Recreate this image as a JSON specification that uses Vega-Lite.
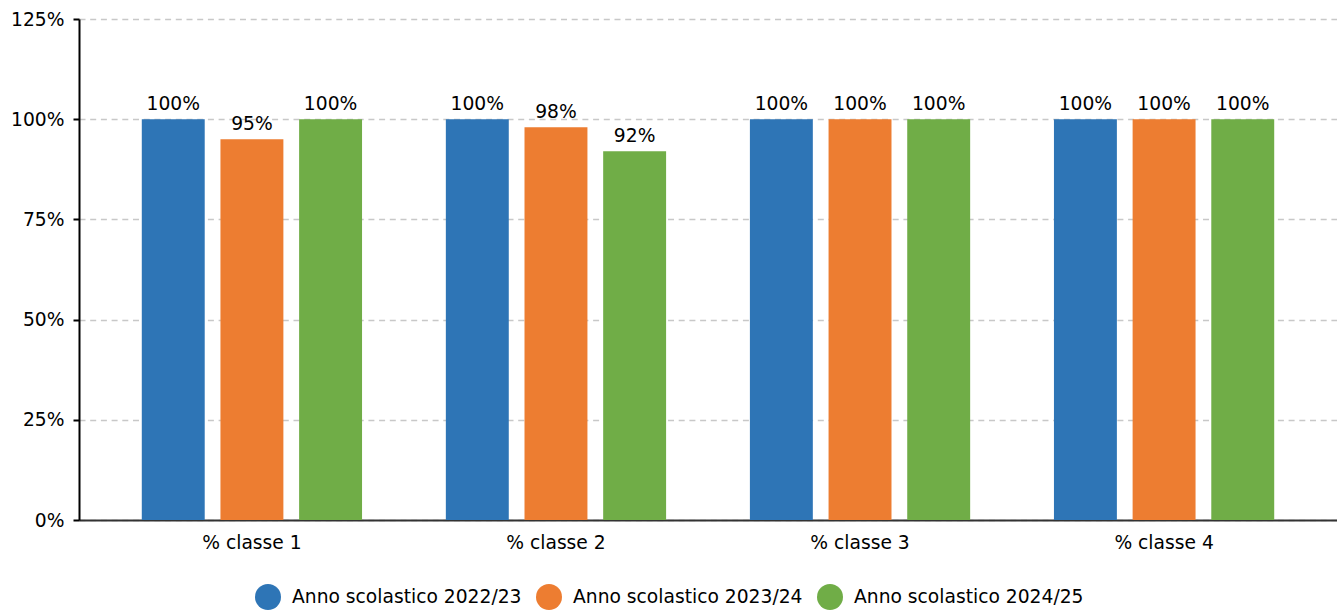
{
  "$schema": "https://vega.github.io/schema/vega-lite/v6.json",
  "width": 1258,
  "height": 501,
  "autosize": {"type": "none"},
  "padding": {"left": 79, "top": 19, "right": 0, "bottom": 90},
  "background": "white",
  "config": {
    "font": "DejaVu Sans",
    "view": {"stroke": null},
    "axis": {"labelFont": "DejaVu Sans", "labelFontSize": 18.7, "labelColor": "#000", "title": null}
  },
  "data": {
    "values": [
      {"classe": "% classe 1", "anno": "Anno scolastico 2022/23", "v": 1.0},
      {"classe": "% classe 1", "anno": "Anno scolastico 2023/24", "v": 0.95},
      {"classe": "% classe 1", "anno": "Anno scolastico 2024/25", "v": 1.0},
      {"classe": "% classe 2", "anno": "Anno scolastico 2022/23", "v": 1.0},
      {"classe": "% classe 2", "anno": "Anno scolastico 2023/24", "v": 0.98},
      {"classe": "% classe 2", "anno": "Anno scolastico 2024/25", "v": 0.92},
      {"classe": "% classe 3", "anno": "Anno scolastico 2022/23", "v": 1.0},
      {"classe": "% classe 3", "anno": "Anno scolastico 2023/24", "v": 1.0},
      {"classe": "% classe 3", "anno": "Anno scolastico 2024/25", "v": 1.0},
      {"classe": "% classe 4", "anno": "Anno scolastico 2022/23", "v": 1.0},
      {"classe": "% classe 4", "anno": "Anno scolastico 2023/24", "v": 1.0},
      {"classe": "% classe 4", "anno": "Anno scolastico 2024/25", "v": 1.0}
    ]
  },
  "encoding": {
    "x": {
      "field": "classe", "type": "nominal",
      "scale": {"paddingInner": 0.2756, "paddingOuter": 0.2065},
      "axis": {"labelAngle": 0, "ticks": false, "labelPadding": 13, "domainColor": "#333", "domainWidth": 2, "grid": false}
    },
    "xOffset": {
      "field": "anno", "type": "nominal",
      "scale": {"paddingInner": 0.2, "paddingOuter": 0}
    },
    "y": {
      "field": "v", "type": "quantitative",
      "scale": {"domain": [0, 1.25], "nice": false},
      "axis": {
        "values": [0, 0.25, 0.5, 0.75, 1.0, 1.25],
        "format": ".0%",
        "domainColor": "#000", "domainWidth": 2,
        "tickColor": "#000", "tickWidth": 2, "tickSize": 6,
        "labelPadding": 9,
        "grid": true, "gridColor": "#c8c8c8", "gridDash": [6, 4.7], "gridWidth": 1.5
      }
    }
  },
  "layer": [
    {
      "mark": {"type": "bar"},
      "encoding": {
        "color": {
          "field": "anno", "type": "nominal",
          "scale": {"range": ["#2e75b6", "#ed7d31", "#70ad47"]},
          "legend": {
            "title": null,
            "orient": "none",
            "direction": "horizontal",
            "legendX": 176,
            "legendY": 565,
            "symbolType": "circle",
            "symbolSize": 676,
            "symbolStrokeWidth": 0,
            "symbolOpacity": 1,
            "labelFont": "DejaVu Sans",
            "labelFontSize": 18.7,
            "labelColor": "#000",
            "labelOffset": 11,
            "columnPadding": 14,
            "labelLimit": 400
          }
        }
      }
    },
    {
      "mark": {"type": "text", "baseline": "bottom", "dy": -5, "fontSize": 18.7, "font": "DejaVu Sans", "color": "#000"},
      "encoding": {
        "text": {"field": "v", "type": "quantitative", "format": ".0%"}
      }
    }
  ]
}
